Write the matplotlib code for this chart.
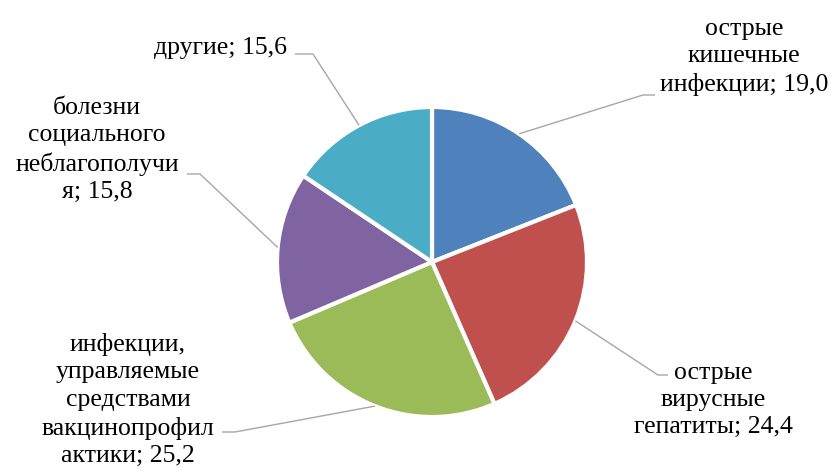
import numpy as np
import matplotlib.pyplot as plt

labels = [
    'острые\nкишечные\nинфекции; 19,0',
    'острые\nвирусные\nгепатиты; 24,4',
    'инфекции,\nуправляемые\nсредствами\nвакцинопрофил\nактики; 25,2',
    'болезни\nсоциального\nнеблагополучи\nя; 15,8',
    'другие; 15,6',
]
values = [19.0, 24.4, 25.2, 15.8, 15.6]
colors = ['#4F81BD', '#C0504D', '#9BBB59', '#8064A2', '#4BACC6']

# label block centres and leader elbows (pixel coords, y from top)
text_pos = [(744, 57), (713, 400), (128, 400), (97, 150), (220, 48)]
elbow = [(643, 95), (658, 375), (235, 432), (200, 174), (313, 54)]
tail = [(655, 95), (668, 375), (222, 432), (187, 174), (295, 54)]

W, H = 835, 470
fig = plt.figure(figsize=(W / 100, H / 100), dpi=100)
ax = fig.add_axes([0, 0, 1, 1])

cx, cy, r = 432, H - 262, 155
wedges, _ = ax.pie(values, colors=colors, startangle=90, counterclock=False,
                   center=(cx, cy), radius=r, frame=True,
                   wedgeprops=dict(edgecolor='white', linewidth=3))
ax.set_xlim(0, W)
ax.set_ylim(0, H)
ax.set_aspect('equal')
ax.axis('off')

for w, lab, tp, el, tl in zip(wedges, labels, text_pos, elbow, tail):
    ang = np.deg2rad((w.theta1 + w.theta2) / 2)
    sx, sy = cx + r * np.cos(ang), cy + r * np.sin(ang)
    ax.plot([sx, el[0], tl[0]], [sy, H - el[1], H - tl[1]],
            color='#A6A6A6', lw=1, solid_capstyle='butt')
    ax.text(tp[0], H - tp[1], lab, ha='center', va='center',
            family='Liberation Serif', fontsize=18.5, linespacing=1.32,
            color='black', multialignment='center')

fig.savefig('out.png', dpi=100)
